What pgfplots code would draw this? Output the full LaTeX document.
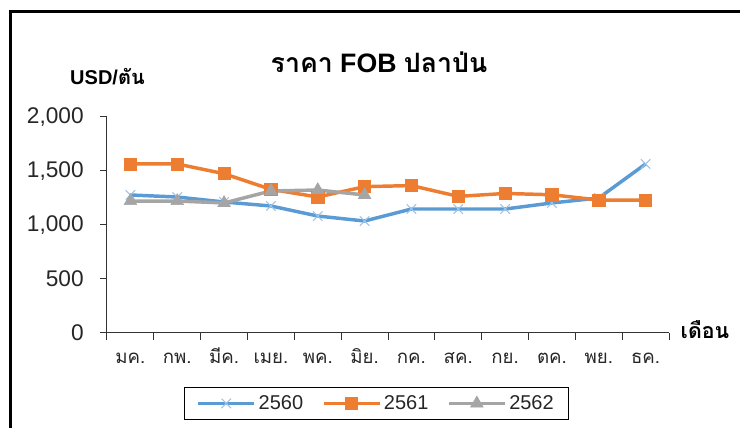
\documentclass[border=0pt]{standalone}
\usepackage{fontspec}
\setmainfont{Liberation Sans}
\newfontfamily\thai[Script=Thai]{Loma}
\usepackage{pgfplots}
\pgfplotsset{compat=1.18}
\definecolor{cblue}{HTML}{5B9BD5}
\definecolor{corange}{HTML}{ED7D31}
\definecolor{cgray}{HTML}{A5A5A5}
\definecolor{cxblue}{HTML}{9DC3E6}
\begin{document}
\begin{tikzpicture}
\useasboundingbox (0pt,0pt) rectangle (555pt,321pt);
\draw[line width=2.25pt] (7.5pt,0pt) -- (7.5pt,312pt) -- (555pt,312pt);
\begin{axis}[
  at={(80.25pt,71.25pt)}, anchor=south west,
  scale only axis, width=421.5pt, height=162pt,
  xmin=0.5, xmax=12.5, ymin=0, ymax=2000,
  axis x line*=bottom, axis y line*=left,
  axis line style={draw=black!80, line width=0.75pt},
  tick style={draw=black!80, line width=0.75pt},
  tick align=outside, major tick length=5pt,
  ytick={0,500,1000,1500,2000},
  xtick={0.5,1.5,...,12.5},
  xticklabels={มค.,กพ.,มีค.,เมย.,พค.,มิย.,กค.,สค.,กย.,ตค.,พย.,ธค.,{}},
  xticklabel style={font=\thai\fontsize{14}{17}\selectfont, text=black!85, xshift=17.56pt, anchor=base, text height=11pt, text depth=0pt, yshift=-18pt},
  yticklabel style={font=\fontsize{17}{20}\selectfont, text=black!85, xshift=-9pt},
  /pgf/number format/assume math mode=true,
  /pgf/number format/1000 sep={,},
  legend columns=3,
  legend style={at={(0.4795,-0.326)}, anchor=center, draw=black, line width=0.75pt,
    font=\fontsize{15}{18}\selectfont, text=black!85, inner xsep=9pt, inner ysep=4pt,
    /tikz/every even column/.append style={column sep=12pt}},
  legend image code/.code={\draw[mark repeat=2,mark phase=2] plot coordinates {(0pt,0pt) (21pt,0pt) (42pt,0pt)};},
]
\addplot[color=cblue, line width=2.6pt, mark=x, mark size=5pt, mark options={draw=cxblue, line width=0.8pt}]
 coordinates {(1,1278) (2,1259) (3,1213) (4,1176) (5,1083) (6,1037) (7,1148) (8,1148) (9,1148) (10,1204) (11,1250) (12,1565)};
\addlegendentry{2560}
\addplot[color=corange, line width=2.6pt, mark=square*, mark size=4.6pt, mark options={fill=corange, draw=corange, line width=0.5pt}]
 coordinates {(1,1565) (2,1565) (3,1475) (4,1330) (5,1259) (6,1355) (7,1365) (8,1265) (9,1292) (10,1280) (11,1231) (12,1231)};
\addlegendentry{2561}
\addplot[color=cgray, line width=2.6pt, mark=triangle*, mark size=5.4pt, mark options={fill=cgray, draw=cgray, line width=0.5pt}]
 coordinates {(1,1222) (2,1222) (3,1204) (4,1315) (5,1324) (6,1278)};
\addlegendentry{2562}
\end{axis}
\node at (284.25pt,274.5pt) {\fontsize{20}{24}\selectfont\bfseries{\thai ราคา} FOB {\thai ปลาป่น}};
\node at (80.6pt,263.25pt) {\fontsize{15}{18}\selectfont\bfseries USD/{\thai ตัน}};
\node at (528.75pt,73.5pt) {\thai\fontsize{16}{19}\selectfont\bfseries เดือน};
\end{tikzpicture}
\end{document}
